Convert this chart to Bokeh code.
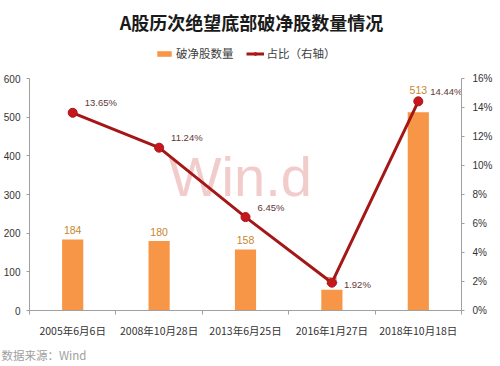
from bokeh.plotting import figure
from bokeh.models import (Range1d, LinearAxis, FixedTicker, PrintfTickFormatter,
                          Label, Legend, LegendItem, ColumnDataSource, Title)
from bokeh.embed import file_html
from bokeh.resources import INLINE
from bokeh.core.properties import value

# ---- data ----
dates = ["2005年6月6日", "2008年10月28日", "2013年6月25日", "2016年1月27日", "2018年10月18日"]
counts = [184, 180, 158, 54, 513]
ratios = [13.65, 11.24, 6.45, 1.92, 14.44]  # percent
left_ticks = [0, 100, 200, 300, 400, 500, 600]
right_ticks = [0, 2, 4, 6, 8, 10, 12, 14, 16]
title_text = "A股历次绝望底部破净股数量情况"
legend_labels = ["破净股数量", "占比（右轴）"]
source_text = "数据来源：Wind"

CJK = "Noto Sans CJK SC"
NUM = "Liberation Sans"
BAR = "#f79646"
LINE = "#a51616"
DOT = "#c8161d"

# layout: frame spans from canvas top (0) to y=313; axes occupy 79..313
AXIS_TOP, AXIS_BOTTOM = 79, 313
stretch = AXIS_BOTTOM / (AXIS_BOTTOM - AXIS_TOP)

xs = [i + 0.5 for i in range(len(dates))]
bounds = list(range(len(dates) + 1))

src = ColumnDataSource(dict(
    x=xs, count=counts, ratio=ratios,
    clabel=[str(c) for c in counts],
    coff=[-18 if c == max(counts) else -5 for c in counts],
    rlabel=[f"{r:.2f}%" for r in ratios],
    roff=[2 if r == min(ratios) else -10 for r in ratios],
))

lmax = left_ticks[-1]
rmax = right_ticks[-1]

p = figure(width=500, height=366, output_backend="svg", toolbar_location=None,
           x_range=Range1d(0, len(dates)), y_range=Range1d(0, lmax * stretch),
           min_border_left=10, min_border_right=39, min_border_top=0,
           min_border_bottom=366 - AXIS_BOTTOM,
           background_fill_color="white", border_fill_color="white")
p.outline_line_color = None
p.grid.visible = False
p.extra_y_ranges = {"pct": Range1d(0, rmax * stretch)}

# x axis
xa = p.xaxis[0]
xa.ticker = FixedTicker(ticks=xs, minor_ticks=bounds)
xa.major_label_overrides = {x: d for x, d in zip(xs, dates)}
xa.major_tick_out = 0
xa.major_tick_in = 0
xa.minor_tick_out = 4
xa.minor_tick_in = 0
xa.minor_tick_line_color = "#a0a0a0"
xa.axis_line_color = "#a0a0a0"
xa.major_label_text_font = CJK
xa.major_label_text_font_size = "10.5px"
xa.major_label_text_color = "#333333"
xa.major_label_standoff = 8

# left axis
ya = p.yaxis[0]
ya.ticker = FixedTicker(ticks=left_ticks)
ya.bounds = (0, lmax)
ya.axis_line_color = "#a0a0a0"
ya.major_tick_line_color = "#a0a0a0"
ya.major_tick_out = 3
ya.major_tick_in = 0
ya.minor_tick_line_color = None
ya.major_label_text_font = NUM
ya.major_label_text_font_size = "10px"
ya.major_label_text_color = "#333333"
ya.major_label_standoff = 6

# right axis
ra = LinearAxis(y_range_name="pct", ticker=FixedTicker(ticks=right_ticks),
                formatter=PrintfTickFormatter(format="%d%%"), bounds=(0, rmax))
ra.axis_line_color = "#a0a0a0"
ra.major_tick_line_color = "#a0a0a0"
ra.major_tick_out = 3
ra.major_tick_in = 0
ra.minor_tick_line_color = None
ra.major_label_text_font = NUM
ra.major_label_text_font_size = "10px"
ra.major_label_text_color = "#333333"
ra.major_label_standoff = 8
p.add_layout(ra, "right")

# watermark
p.add_layout(Label(x=2.44, y=346, text="Win.d", text_align="center", text_baseline="middle",
                   text_font=NUM, text_font_size="56px", text_color="#eaa8a8",
                   text_alpha=0.6, level="underlay"))

bars = p.vbar(x="x", top="count", width=0.245, source=src, fill_color=BAR, line_color=None)
p.text(x="x", y="count", text="clabel", source=src, text_align="center",
       text_baseline="bottom", y_offset="coff", text_font=value(NUM), text_font_size="10.5px",
       text_color="#c8862d")

line = p.line(x="x", y="ratio", source=src, y_range_name="pct", line_color=LINE, line_width=3)
dots = p.scatter(x="x", y="ratio", source=src, y_range_name="pct", size=9,
                 fill_color=DOT, line_color=LINE)
p.text(x="x", y="ratio", text="rlabel", source=src, y_range_name="pct", text_align="left",
       text_baseline="middle", x_offset=12, y_offset="roff", text_font=value(NUM),
       text_font_size="9.5px", text_color="#603838")

# title (inside the stretched frame, above the axes)
p.add_layout(Label(x=2.57, y=lmax * (AXIS_BOTTOM - 22) / (AXIS_BOTTOM - AXIS_TOP),
                   text=title_text, text_align="center", text_baseline="middle",
                   text_font=CJK, text_font_size="18px", text_font_style="bold",
                   text_color="#1a1a1a"))

legend = Legend(items=[LegendItem(label=legend_labels[0], renderers=[bars]),
                       LegendItem(label=legend_labels[1], renderers=[line, dots])],
                location=(126, AXIS_BOTTOM - 57 - 7), orientation="horizontal",
                glyph_width=18, glyph_height=7, label_height=14, label_standoff=3,
                spacing=12, padding=0, margin=0, border_line_color=None,
                background_fill_alpha=0, label_text_font=CJK,
                label_text_font_size="11.5px", label_text_color="#404040")
p.add_layout(legend)

p.add_layout(Title(text=source_text, align="left", offset=-28, standoff=8, text_font=CJK,
                   text_font_size="11.5px", text_font_style="normal",
                   text_color="#a0a0a0"), "below")

open("out.html", "w").write(file_html(p, INLINE))
